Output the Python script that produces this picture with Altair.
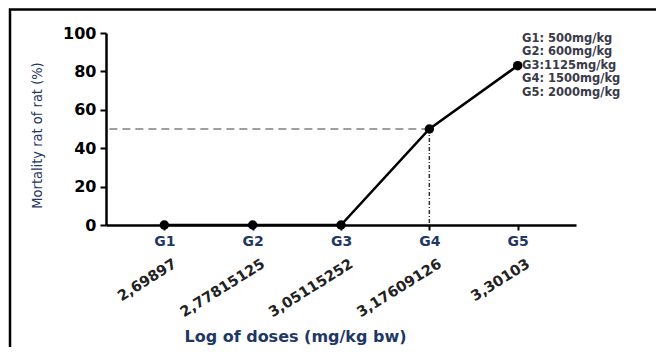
import altair as alt
import pandas as pd

groups = ["G1", "G2", "G3", "G4", "G5"]
mortality = [0, 0, 0, 50, 83]
log_doses = ["2,69897", "2,77815125", "3,05115252", "3,17609126", "3,30103"]
y_ticks = [0, 20, 40, 60, 80, 100]
legend_lines = ["G1: 500mg/kg", "G2: 600mg/kg", "G3:1125mg/kg", "G4: 1500mg/kg", "G5: 2000mg/kg"]
ld50_group = "G4"
ld50_value = 50

df = pd.DataFrame({"g": groups, "m": mortality, "lab": log_doses})
ld = pd.DataFrame({"g": [ld50_group], "m": [ld50_value]})
leg = pd.DataFrame({"t": ["\n".join(legend_lines)]})
frame = pd.DataFrame({"k": [1]})

navy = "#1f3864"
bold_font = "DejaVu Sans"

xscale = alt.Scale(type="point", domain=groups, padding=0.66)
yscale = alt.Scale(domain=[0, 100], nice=False, zero=True)

x_axis = alt.Axis(
    title="Log of doses (mg/kg bw)", labelAngle=0, labelAlign="center",
    labelBaseline="top", labelFont=bold_font,
    labelFontSize=14, labelFontWeight="bold", labelColor=navy,
    labelPadding=4, tickSize=5, tickWidth=2, tickColor="black",
    domainColor="black", domainWidth=2.5,
    titleFont=bold_font, titleFontSize=16, titleFontWeight="bold",
    titleColor=navy, titleX=189, titleY=111, titleBaseline="middle",
    titleAlign="center", titleAnchor="start", grid=False,
)
y_axis = alt.Axis(
    title="Mortality rat of rat (%)", values=y_ticks, tickCount=6,
    labelOverlap=False, labelFlush=False,
    labelFont=bold_font, labelFontSize=16, labelFontWeight="bold",
    labelColor="black", labelPadding=4, tickSize=6, tickWidth=2,
    tickColor="black", domainColor="black", domainWidth=2.5,
    titleFont="Liberation Sans Narrow, DejaVu Sans Condensed, sans-serif",
    titleFontSize=14.5, titleFontWeight="normal", titleColor=navy,
    titleX=-69, titleY=102, titleAngle=270, titleBaseline="middle",
    titleAlign="center", grid=False,
)

X = alt.X("g:N", scale=xscale, sort=groups, axis=x_axis)
Y = alt.Y("m:Q", scale=yscale, axis=y_axis)

base = alt.Chart(df)

hline = alt.Chart(ld).mark_rule(color="#808080", strokeWidth=1.5, strokeDash=[8, 5]).encode(
    x=X, x2=alt.value(0), y=Y,
)
vline = alt.Chart(ld).mark_rule(color="#333333", strokeWidth=1.5, strokeDash=[4, 2, 1, 2]).encode(
    x=X, y=Y, y2=alt.value(192),
)
line = base.mark_line(color="black", strokeWidth=2.5).encode(x=X, y=Y)
pts = base.mark_point(filled=True, color="black", size=90, opacity=1).encode(x=X, y=Y)
rot = base.mark_text(
    angle=328, align="right", baseline="middle", font=bold_font,
    fontSize=14.5, fontWeight="bold", color="#222222", dx=13,
).encode(x=X, y=alt.value(237), text="lab:N")
legend = alt.Chart(leg).mark_text(
    align="left", baseline="top", font=bold_font, fontSize=11.5, fontWeight="bold",
    color="#3a3a48", lineBreak="\n", lineHeight=13.4,
).encode(x=alt.value(416), y=alt.value(0), text="t:N")
box = alt.Chart(frame).mark_rect(filled=False, stroke="black", strokeWidth=2.5).encode(
    x=alt.value(-96), x2=alt.value(640), y=alt.value(-23.5), y2=alt.value(420)
)

chart = alt.layer(box, hline, vline, line, pts, rot, legend).properties(
    width=470, height=192,
    autosize=alt.AutoSizeParams(type="none"),
    padding={"left": 98, "top": 25, "right": 80, "bottom": 122},
).configure_view(stroke=None)

chart.save("out.html", embed_options={"renderer": "svg", "actions": False})
